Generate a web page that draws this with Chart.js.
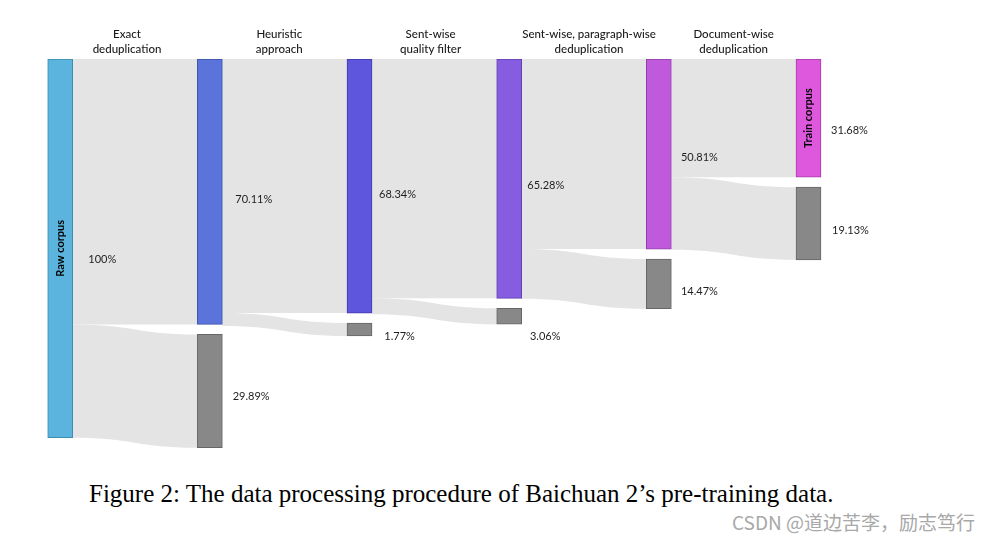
<!doctype html>
<html lang="en">
<head>
<meta charset="utf-8">
<title>Baichuan 2 data processing</title>
<script src="https://cdn.jsdelivr.net/npm/chart.js"></script>
<style>
  body { margin: 0; background: #fff; width: 990px; height: 540px; position: relative; overflow: hidden; }
  #wrap { position: absolute; left: 0; top: 0; width: 990px; height: 470px; }
  #caption { position: absolute; left: 89px; top: 480px; font: 25px/28px "Liberation Serif", "Times New Roman", serif; color: #000; white-space: nowrap; }
  #mark { position: absolute; right: 15px; top: 509px; font: 19px/26px "Noto Sans CJK SC", sans-serif; color: #a8a8a8; white-space: nowrap; }
</style>
</head>
<body>
<div id="wrap"><canvas id="sankey" width="990" height="470"></canvas></div>
<div id="caption">Figure 2: The data processing procedure of Baichuan 2’s pre-training data.</div>
<div id="mark">CSDN @道边苦李，励志笃行</div>

<script>
// stage names (between columns)
const stages = [
  ['Exact', 'deduplication'],
  ['Heuristic', 'approach'],
  ['Sent-wise', 'quality filter'],
  ['Sent-wise, paragraph-wise', 'deduplication'],
  ['Document-wise', 'deduplication']
];
// share kept after each stage / share removed by each stage (as drawn)
const keptVals = [70.1, 67.1, 63.2, 50.2, 31.2];
const dropVals = [29.9, 3.4, 4.2, 13.1, 19.2];
// printed labels
const rawLabel = '100%';
const keptLabels = ['70.11%', '68.34%', '65.28%', '50.81%', '31.68%'];
const dropLabels = ['29.89%', '1.77%', '3.06%', '14.47%', '19.13%'];

const GAP = 2.64; // space between kept and removed node, in % units
const nodeColors = ['#5ab4dd', '#5a74dc', '#5e56dc', '#865ce0', '#c05adc', '#dd58dd'];
const nodeBorders = ['#3f8ab0', '#3d52a8', '#4038a8', '#6040b0', '#9040a8', '#a83aa8'];
const LINK = '#e4e4e4';
const FONT = 'Lato, "Open Sans", sans-serif';

// pixel nudges for the value labels (dx from node right edge, dy from node centre)
const rawNudge = [15.6, 11];
const keptNudge = [[13, 7.6], [7, 8], [5.6, 6.3], [9.6, 3.7], [10, 12.6]];
const dropNudge = [[10.3, 5.6], [12.3, 7.2], [8.3, 20.4], [9.6, 8], [11, 6.5]];
const headNudge = [-8, -5.4, -3.7, 5, 0];

const mainNodes = [{x: 0, y: [0, 100]}];
keptVals.forEach((v, i) => mainNodes.push({x: i + 1, y: [0, v]}));
const dropNodes = dropVals.map((v, i) => ({x: i + 1, y: [keptVals[i] + GAP, keptVals[i] + GAP + v]}));

const HALF = 12.5;

function band(ctx, x0, x1, s0, s1, t0, t1) {
  const xm = (x0 + x1) / 2;
  ctx.beginPath();
  ctx.moveTo(x0, s0);
  ctx.bezierCurveTo(xm, s0, xm, t0, x1, t0);
  ctx.lineTo(x1, t1);
  ctx.bezierCurveTo(xm, t1, xm, s1, x0, s1);
  ctx.closePath();
  ctx.fill();
}

const sankeyLinks = {
  id: 'sankeyLinks',
  beforeDatasetsDraw(chart) {
    const ctx = chart.ctx, xs = chart.scales.x, ys = chart.scales.y;
    ctx.save();
    ctx.fillStyle = LINK;
    for (let i = 0; i < 5; i++) {
      const x0 = xs.getPixelForValue(i) + HALF;
      const x1 = xs.getPixelForValue(i + 1) - HALF;
      const k = keptVals[i], d = dropVals[i];
      band(ctx, x0, x1, ys.getPixelForValue(0), ys.getPixelForValue(k),
           ys.getPixelForValue(0), ys.getPixelForValue(k));
      band(ctx, x0, x1, ys.getPixelForValue(k), ys.getPixelForValue(k + d),
           ys.getPixelForValue(k + GAP), ys.getPixelForValue(k + GAP + d));
    }
    ctx.restore();
  },
  afterDatasetsDraw(chart) {
    const ctx = chart.ctx, xs = chart.scales.x, ys = chart.scales.y;
    ctx.save();
    ctx.fillStyle = '#1e1e1e';
    ctx.textBaseline = 'middle';
    ctx.textAlign = 'left';
    ctx.font = '11px ' + FONT;
    const put = (txt, node, nudge) => {
      const cx = xs.getPixelForValue(node.x) + HALF + nudge[0];
      const cy = (ys.getPixelForValue(node.y[0]) + ys.getPixelForValue(node.y[1])) / 2 + nudge[1];
      ctx.fillText(txt, cx, cy);
    };
    put(rawLabel, mainNodes[0], rawNudge);
    keptLabels.forEach((t, i) => put(t, mainNodes[i + 1], keptNudge[i]));
    dropLabels.forEach((t, i) => put(t, dropNodes[i], dropNudge[i]));

    // names inside first and last node
    ctx.font = 'bold 11px ' + FONT;
    ctx.fillStyle = '#000';
    ctx.textAlign = 'center';
    [[mainNodes[0], 'Raw corpus'], [mainNodes[5], 'Train corpus']].forEach(([n, t]) => {
      const cx = xs.getPixelForValue(n.x);
      const cy = (ys.getPixelForValue(n.y[0]) + ys.getPixelForValue(n.y[1])) / 2;
      ctx.save();
      ctx.translate(cx, cy);
      ctx.rotate(-Math.PI / 2);
      ctx.fillText(t, 0, 0);
      ctx.restore();
    });

    // stage headers
    ctx.font = '500 11.5px ' + FONT;
    ctx.fillStyle = '#1a1a1a';
    stages.forEach((lines, i) => {
      const cx = xs.getPixelForValue(i + 0.5) + headNudge[i];
      lines.forEach((l, j) => ctx.fillText(l, cx, 34 + j * 15));
    });
    ctx.restore();
  }
};

new Chart(document.getElementById('sankey'), {
  type: 'bar',
  data: {
    datasets: [{
      data: mainNodes,
      backgroundColor: nodeColors,
      borderColor: nodeBorders,
      borderWidth: 1,
      borderSkipped: false,
      barThickness: 25,
      grouped: false
    }, {
      data: dropNodes,
      backgroundColor: '#888888',
      borderColor: '#666666',
      borderWidth: 1,
      borderSkipped: false,
      barThickness: 25,
      grouped: false
    }]
  },
  options: {
    responsive: false,
    animation: false,
    devicePixelRatio: 1,
    layout: { padding: { left: 15.3, right: 136.6, top: 59, bottom: 13.4 } },
    scales: {
      x: { type: 'linear', min: -0.3, max: 5.3, offset: false, display: false },
      y: { min: 0, max: 105, reverse: true, display: false }
    },
    plugins: { legend: { display: false }, tooltip: { enabled: false } }
  },
  plugins: [sankeyLinks]
});
</script>
</body>
</html>
